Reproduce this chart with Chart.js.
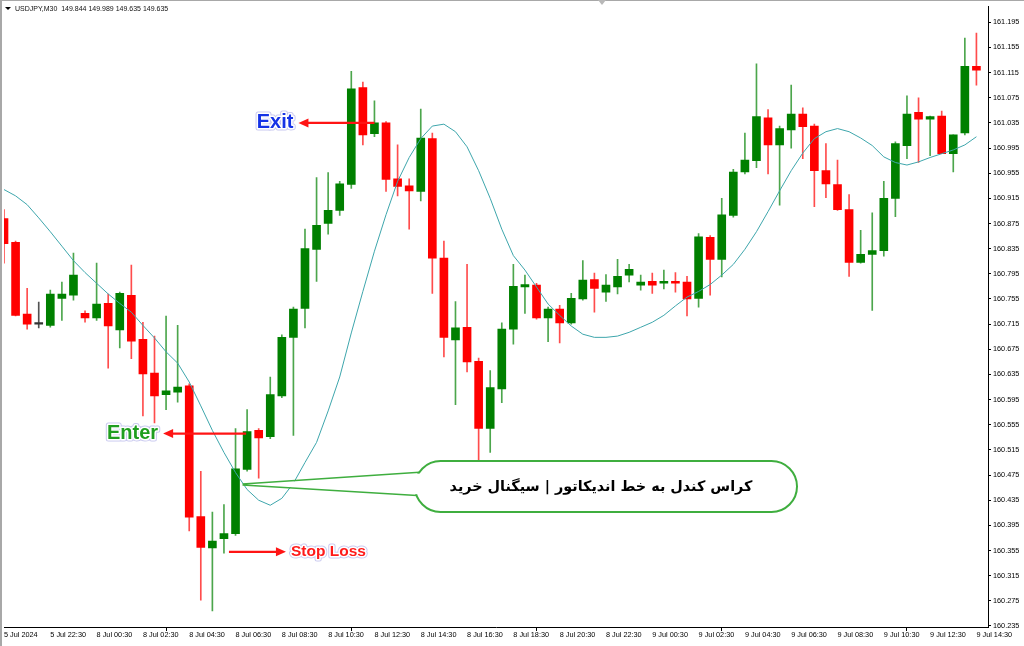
<!DOCTYPE html>
<html><head><meta charset="utf-8">
<script src="https://cdn.jsdelivr.net/npm/chart.js@4.4.1/dist/chart.umd.min.js"></script>
<style>html,body{margin:0;padding:0;background:#fff;overflow:hidden}canvas{display:block}</style>
</head><body>
<canvas id="c" width="1024" height="646"></canvas>
<script>
// ---- data (USDJPY M30) ----
const opens = [160.883,160.845,160.731,160.715,160.713,160.756,160.761,160.732,160.725,160.748,
160.706,160.761,160.691,160.637,160.603,160.607,160.617,160.409,160.359,160.374,
160.382,160.484,160.546,160.536,160.601,160.694,160.740,160.834,160.875,160.896,
160.937,161.091,161.018,161.035,160.946,160.935,160.926,161.010,160.820,160.690,
160.710,160.656,160.549,160.612,160.707,160.774,160.777,160.725,160.739,160.717,
160.755,160.786,160.766,160.774,160.793,160.777,160.783,160.780,160.783,160.782,
160.756,160.853,160.818,160.888,160.957,160.975,161.043,161.000,161.024,161.049,
161.030,160.959,160.937,160.897,160.813,160.826,160.832,160.915,160.999,161.052,
161.041,161.046,160.986,161.019,161.125];
const highs = [160.897,160.847,160.772,160.750,160.769,160.782,160.828,160.736,160.812,160.763,
160.766,160.809,160.718,160.696,160.728,160.713,160.620,160.481,160.416,160.428,
160.549,160.579,160.549,160.631,160.698,160.742,160.866,160.948,160.956,160.942,
161.117,161.100,161.070,161.037,161.000,160.946,161.057,161.019,160.847,160.751,
160.810,160.661,160.641,160.717,160.810,160.793,160.780,160.742,160.745,160.764,
160.816,160.796,160.794,160.818,160.810,160.793,160.796,160.801,160.797,160.791,
160.859,160.856,160.915,160.961,161.019,161.129,161.056,161.030,161.095,161.059,
161.033,161.002,160.976,160.921,160.864,160.892,160.942,161.005,161.078,161.075,
161.046,161.054,161.016,161.170,161.178];
const lows = [160.812,160.728,160.707,160.709,160.710,160.721,160.753,160.718,160.721,160.645,
160.677,160.660,160.569,160.558,160.579,160.591,160.386,160.276,160.259,160.351,
160.379,160.481,160.470,160.533,160.598,160.538,160.709,160.783,160.858,160.888,
160.931,161.000,161.013,160.926,160.919,160.866,160.911,160.764,160.663,160.587,
160.639,160.495,160.511,160.590,160.683,160.732,160.723,160.687,160.685,160.715,
160.753,160.734,160.751,160.763,160.782,160.769,160.764,160.771,160.766,160.728,
160.742,160.761,160.790,160.885,160.954,160.964,160.954,160.904,160.995,160.978,
160.902,160.916,160.896,160.791,160.812,160.737,160.823,160.886,160.978,160.972,
160.983,160.986,160.957,161.016,161.095];
const closes = [160.843,160.729,160.715,160.715,160.763,160.763,160.793,160.725,160.747,160.712,
160.764,160.688,160.636,160.601,160.609,160.615,160.408,160.360,160.370,160.382,
160.485,160.544,160.534,160.603,160.694,160.739,160.835,160.872,160.896,160.938,
161.089,161.016,161.035,160.945,160.934,160.927,161.011,160.820,160.694,160.709,
160.655,160.549,160.614,160.707,160.775,160.778,160.725,160.739,160.717,160.756,
160.785,160.772,160.777,160.791,160.802,160.782,160.777,160.783,160.780,160.755,
160.854,160.818,160.889,160.957,160.976,161.045,161.000,161.026,161.049,161.029,
160.959,160.938,160.897,160.813,160.826,160.832,160.915,161.002,161.049,161.041,
161.045,160.986,161.016,161.125,161.119];
const maValues = [160.929,160.919,160.905,160.884,160.862,160.839,160.816,160.797,160.780,160.763,
160.748,160.734,160.713,160.693,160.671,160.653,160.623,160.585,160.546,160.511,
160.479,160.452,160.435,160.427,160.438,160.462,160.495,160.527,160.577,160.631,
160.701,160.767,160.831,160.889,160.942,160.980,161.010,161.030,161.033,161.021,
160.997,160.959,160.915,160.866,160.824,160.801,160.774,160.747,160.729,160.712,
160.699,160.694,160.694,160.696,160.702,160.710,160.718,160.729,160.744,160.758,
160.767,160.778,160.793,160.810,160.834,160.862,160.894,160.927,160.959,160.987,
161.010,161.021,161.026,161.021,161.011,160.999,160.981,160.972,160.968,160.973,
160.980,160.986,160.992,161.000,161.013];
const timeTickLabels = ["5 Jul 2024","5 Jul 22:30","8 Jul 00:30","8 Jul 02:30","8 Jul 04:30","8 Jul 06:30",
"8 Jul 08:30","8 Jul 10:30","8 Jul 12:30","8 Jul 14:30","8 Jul 16:30","8 Jul 18:30","8 Jul 20:30",
"8 Jul 22:30","9 Jul 00:30","9 Jul 02:30","9 Jul 04:30","9 Jul 06:30","9 Jul 08:30","9 Jul 10:30",
"9 Jul 12:30","9 Jul 14:30"];
const barsPerTimeTick = 4;
const priceTicks = [160.235,160.275,160.315,160.355,160.395,160.435,160.475,160.515,160.555,160.595,
160.635,160.675,160.715,160.755,160.795,160.835,160.875,160.915,160.955,160.995,161.035,161.075,
161.115,161.155,161.195];
const priceMin = 160.2334, priceMax = 161.2203;
const titleText = "USDJPY,M30  149.844 149.989 149.635 149.635";
const exitLevel = 161.035, enterLevel = 160.541, stopLevel = 160.353, signalLevel = 160.460;
const exitBar = 32, enterBar = 21, stopBar = 19, signalBar = 20;
const signalText = "کراس کندل به خط اندیکاتور | سیگنال خرید";

// ---- build ----
const categories = opens.map((_, i) => i).concat([opens.length]);
const GREEN = '#008000', RED = '#ff0000', DOJI = '#333333';
const bodyColors = opens.map((o, i) => closes[i] > o ? GREEN : (closes[i] < o ? RED : DOJI));
const wickColors = opens.map((o, i) => closes[i] > o ? 'rgba(0,128,0,0.7)' : (closes[i] < o ? 'rgba(255,0,0,0.7)' : 'rgba(40,40,40,0.8)'));

function arrow(ctx, x1, y, x2) {
  const dir = Math.sign(x2 - x1);
  ctx.save();
  ctx.strokeStyle = '#ff1414'; ctx.fillStyle = '#ff1414'; ctx.lineWidth = 2.2;
  ctx.beginPath(); ctx.moveTo(x1, y); ctx.lineTo(x2 - dir * 6, y); ctx.stroke();
  ctx.beginPath(); ctx.moveTo(x2, y); ctx.lineTo(x2 - dir * 10, y - 4.5); ctx.lineTo(x2 - dir * 10, y + 4.5); ctx.closePath(); ctx.fill();
  ctx.restore();
}
function haloText(ctx, txt, x, y, font, color, align) {
  ctx.save();
  ctx.font = font; ctx.textAlign = align; ctx.textBaseline = 'middle';
  ctx.lineJoin = 'round';
  ctx.strokeStyle = 'rgba(185,185,235,0.75)'; ctx.lineWidth = 5; ctx.strokeText(txt, x, y);
  ctx.strokeStyle = '#ffffff'; ctx.lineWidth = 3; ctx.strokeText(txt, x, y);
  ctx.fillStyle = color; ctx.fillText(txt, x, y);
  ctx.restore();
}

const decor = {
  id: 'decor',
  beforeDraw(chart) {
    const ctx = chart.ctx;
    ctx.save();
    ctx.fillStyle = '#ffffff'; ctx.fillRect(0, 0, chart.width, chart.height);
    ctx.restore();
  },
  afterDraw(chart) {
    const {ctx, scales: {x, y}} = chart;
    ctx.save();
    // window frame
    ctx.fillStyle = '#a8a8a8';
    ctx.fillRect(0, 0, chart.width, 1);
    ctx.fillRect(0, 0, 2, chart.height);
    ctx.fillStyle = '#b8b8b8';
    ctx.beginPath(); ctx.moveTo(598, 0); ctx.lineTo(606, 0); ctx.lineTo(602, 5); ctx.closePath(); ctx.fill();
    // title
    ctx.fillStyle = '#000';
    ctx.beginPath(); ctx.moveTo(5, 7); ctx.lineTo(11, 7); ctx.lineTo(8, 10); ctx.closePath(); ctx.fill();
    ctx.font = '7px "Liberation Sans"'; ctx.textBaseline = 'middle'; ctx.textAlign = 'left';
    ctx.fillStyle = '#111';
    ctx.fillText(titleText, 15, 9);

    // Exit
    const xe = x.getPixelForValue(exitBar), ye = y.getPixelForValue(exitLevel);
    arrow(ctx, xe, ye, xe - 76);
    haloText(ctx, 'Exit', xe - 81, ye, 'bold 20px "Liberation Sans"', '#1432e6', 'right');
    // Enter
    const xn = x.getPixelForValue(enterBar), yn = y.getPixelForValue(enterLevel);
    arrow(ctx, xn - 1, yn, xn - 84);
    haloText(ctx, 'Enter', xn - 89, yn, 'bold 20px "Liberation Sans"', '#1f9e1f', 'right');
    // Stop loss
    const xs = x.getPixelForValue(stopBar), ys = y.getPixelForValue(stopLevel);
    arrow(ctx, xs + 5, ys, xs + 62);
    haloText(ctx, 'Stop Loss', xs + 67, ys, 'bold 15.5px "Liberation Sans"', '#ff1a1a', 'left');

    // speech bubble
    const tx = x.getPixelForValue(signalBar) + 7, ty = y.getPixelForValue(signalLevel);
    const L = 415, R = 797, T = 461, B = 512, r = (B - T) / 2;
    ctx.beginPath();
    ctx.moveTo(L + r, T); ctx.lineTo(R - r, T);
    ctx.arc(R - r, T + r, r, -Math.PI / 2, Math.PI / 2);
    ctx.lineTo(L + r, B);
    ctx.arc(L + r, T + r, r, Math.PI / 2, Math.PI * 1.5);
    ctx.closePath();
    ctx.fillStyle = '#fff'; ctx.fill();
    ctx.strokeStyle = '#3fae3f'; ctx.lineWidth = 2; ctx.stroke();
    // tail
    ctx.beginPath(); ctx.moveTo(tx, ty); ctx.lineTo(421, 473.5); ctx.lineTo(421, 494.5); ctx.closePath();
    ctx.fillStyle = '#fff'; ctx.fill();
    ctx.beginPath(); ctx.moveTo(tx, ty - 0.5); ctx.lineTo(419.5, 472.3);
    ctx.moveTo(tx, ty + 0.5); ctx.lineTo(417, 495.5);
    ctx.strokeStyle = '#3fae3f'; ctx.lineWidth = 1.6; ctx.stroke();
    // Persian text
    ctx.font = 'bold 16px "DejaVu Sans"';
    const w = ctx.measureText(signalText).width;
    const fs = Math.min(22, 16 * 303 / w);
    ctx.font = 'bold ' + fs.toFixed(2) + 'px "DejaVu Sans"';
    ctx.direction = 'rtl'; ctx.textAlign = 'center'; ctx.textBaseline = 'middle';
    ctx.fillStyle = '#000';
    ctx.fillText(signalText, 601, 487);
    ctx.restore();
  }
};

new Chart(document.getElementById('c'), {
  data: {
    labels: categories,
    datasets: [
      { type: 'line', data: maValues, borderColor: '#3ea6ac', borderWidth: 1, pointRadius: 0, tension: 0, order: 0 },
      { type: 'bar', data: opens.map((o, i) => [o, closes[i]]), backgroundColor: bodyColors, barThickness: 8, minBarLength: 1.5, grouped: false, order: 1 },
      { type: 'bar', data: lows.map((l, i) => [l, highs[i]]), backgroundColor: wickColors, barThickness: 1, grouped: false, order: 2 }
    ]
  },
  options: {
    responsive: false, animation: false, devicePixelRatio: 1,
    layout: { padding: { left: 4, top: 4, right: 0, bottom: 0 } },
    plugins: { legend: { display: false }, tooltip: { enabled: false }, title: { display: false } },
    scales: {
      x: {
        type: 'category', offset: false,
        grid: { display: true, drawOnChartArea: false, drawTicks: true, tickLength: 4,
          color: c => (c.index % barsPerTimeTick === 0 && c.index < opens.length) ? '#000' : 'rgba(0,0,0,0)' },
        border: { display: true, color: '#000', width: 1 },
        ticks: { autoSkip: false, maxRotation: 0, minRotation: 0, align: 'start', padding: 0,
          color: '#000', font: { family: 'Liberation Sans', size: 7.3 },
          callback: (v, i) => (i % barsPerTimeTick === 0 && i / barsPerTimeTick < timeTickLabels.length) ? timeTickLabels[i / barsPerTimeTick] : null },
        afterFit: s => { s.height = 19; }
      },
      y: {
        type: 'linear', position: 'right', min: priceMin, max: priceMax,
        afterBuildTicks: s => { s.ticks = priceTicks.map(v => ({ value: v })); },
        grid: { display: true, drawOnChartArea: false, drawTicks: true, tickLength: 3, color: '#000' },
        border: { display: true, color: '#000', width: 1 },
        ticks: { padding: 2, color: '#000', font: { family: 'Liberation Sans', size: 7.3 }, callback: v => Number(v).toFixed(3) },
        afterFit: s => { s.width = 36; }
      }
    }
  },
  plugins: [decor]
});
</script>
</body></html>
